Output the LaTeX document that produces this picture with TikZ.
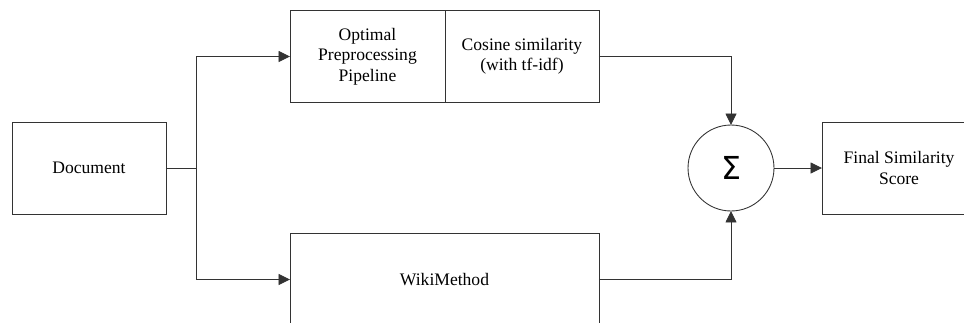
\documentclass[tikz,border=0pt]{standalone}
\usepackage{fontspec}
\setmainfont{Liberation Serif}
\newfontfamily\sigmafont{DejaVu Sans}
\usetikzlibrary{arrows.meta,positioning}

\begin{document}
\begin{tikzpicture}[x=0.02cm,y=-0.02cm,font=\fontsize{10}{11.6}\selectfont,
  box/.style={draw=black!80,line width=0.5pt,minimum width=3.08cm,minimum height=1.84cm,align=center,inner sep=2pt,outer sep=0pt},
  flow/.style={draw=black!80,line width=0.5pt,-{Triangle[length=0.23cm,width=0.22cm]}},
  link/.style={draw=black!80,line width=0.5pt}]
\useasboundingbox (0,0) rectangle (964,322);
\clip (0,0) rectangle (964,322);
\node[box] (doc) at (89,168) {Document};
\node[box,minimum width=3.1cm] (pre) at (367.5,56.5) {Optimal\\Preprocessing\\Pipeline};
\node[box,right=0pt of pre] (cos) {Cosine similarity\\(with tf-idf)};
\node[box,minimum width=6.18cm] (wiki) at (444.5,279.5) {WikiMethod};
\node[draw=black!80,line width=0.5pt,circle,minimum size=1.72cm,inner sep=0pt,outer sep=0pt] (sum) at (731,168) {\sigmafont\fontsize{18}{18}\selectfont Σ};
\node[box] (final) at (899,168) {Final Similarity\\Score};
\coordinate (split) at (196,168);
\draw[link] (doc.east) -- (split);
\draw[flow] (split) |- (pre.west);
\draw[flow] (split) |- (wiki.west);
\draw[flow] (cos.east) -| (sum.north);
\draw[flow] (wiki.east) -| (sum.south);
\draw[flow] (sum.east) -- (final.west);
\end{tikzpicture}
\end{document}
